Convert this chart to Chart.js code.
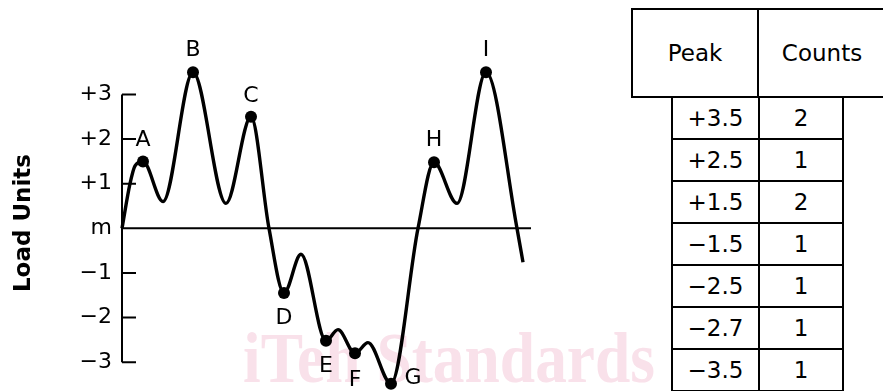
<!doctype html>
<html>
	<head>
		<title>Load Units peaks</title>
		<script src="https://cdn.jsdelivr.net/npm/chart.js@4/dist/chart.umd.min.js"></script>
		<style>
			html, body {
				margin: 0;
				padding: 0;
				background: #fff;
				overflow: hidden;
			}
			#wrap {
				position: relative;
				width: 883px;
				height: 391px;
				overflow: hidden;
			}
			#chart {
				position: absolute;
				left: 0;
				top: 0;
			}
			table {
				position: absolute;
				border-collapse: collapse;
				table-layout: fixed;
				font-family: "DejaVu Sans", sans-serif;
				font-size: 23px;
				background: #fff;
				white-space: nowrap;
			}
			td {
				border: 2px solid #000;
				text-align: center;
				padding: 0;
			}
			#head {
				left: 631px;
				top: 8px;
				width: 250px;
			}
			#head td {
				height: 86px;
			}
			#body {
				left: 671px;
				top: 96px;
				width: 167px;
			}
			#body td {
				height: 40px;
			}
		</style>
	</head>
	<body>
		<div id="wrap">
			<canvas id="chart" width="883" height="391"></canvas>
			<table id="head">
				<tr><td style="width:124px">Peak</td><td style="width:126px">Counts</td></tr>
			</table>
			<table id="body"></table>
		</div>

		<script>
			// curve (x in arbitrary time units, y in load units)
			var curveX = [0, 2, 3.25, 5.25, 10.25, 17.75, 26, 32.25, 36.75, 40.5, 44.75, 51, 54, 58.25, 61.5, 67.25, 74, 78, 83.75, 91, 98.75, 100.25];
			var curveY = [0, 1.0, 1.4, 1.5, 0.6, 3.5, 0.56, 2.5, 0, -1.45, -0.58, -2.52, -2.27, -2.8, -2.56, -3.48, 0, 1.48, 0.56, 3.5, 0, -0.76];

			var peakNames = ['A', 'B', 'C', 'D', 'E', 'F', 'G', 'H', 'I'];
			var peakAt = [3, 5, 7, 9, 11, 13, 15, 17, 19];

			var tickValues = [3, 2, 1, 0, -1, -2, -3];
			var tickLabels = ['+3', '+2', '+1', 'm', '\u22121', '\u22122', '\u22123'];

			var tablePeaks = ['+3.5', '+2.5', '+1.5', '\u22121.5', '\u22122.5', '\u22122.7', '\u22123.5'];
			var tableCounts = [2, 1, 2, 1, 1, 1, 1];

			// table
			var body = document.getElementById('body');
			for (var i = 0; i < tablePeaks.length; i++) {
				var tr = document.createElement('tr');
				tr.innerHTML = '<td style="width:85px">' + tablePeaks[i] + '</td><td style="width:82px">' + tableCounts[i] + '</td>';
				body.appendChild(tr);
			}

			var curve = curveX.map(function(x, i) { return { x: x, y: curveY[i] }; });
			var peaks = peakAt.map(function(k) { return { x: curveX[k], y: curveY[k] }; });

			// where each letter sits relative to its dot
			var labelShift = {
				A: [0, -21], B: [0, -22], C: [0, -21], D: [0, 25], E: [0, 25],
				F: [0, 27], G: [22, -5], H: [0, -22], I: [0, -22]
			};

			var decor = {
				id: 'decor',
				beforeDatasetsDraw: function(chart) {
					var ctx = chart.ctx, area = chart.chartArea;
					var xs = chart.scales.x, ys = chart.scales.y;
					ctx.save();
					// watermark
					ctx.font = 'bold 71px "Liberation Serif", serif';
					ctx.fillStyle = '#f9e1ea';
					ctx.textBaseline = 'alphabetic';
					var txt = 'iTeh Standards';
					var w = ctx.measureText(txt).width;
					ctx.translate(243, 382);
					ctx.scale(412 / w, 1);
					ctx.fillText(txt, 0, 0);
					ctx.restore();

					ctx.save();
					ctx.strokeStyle = '#000';
					ctx.lineWidth = 2;
					ctx.beginPath();
					ctx.moveTo(area.left, ys.getPixelForValue(3));
					ctx.lineTo(area.left, ys.getPixelForValue(-3));
					tickValues.forEach(function(v) {
						if (v === 0) return;
						var y = ys.getPixelForValue(v);
						ctx.moveTo(area.left, y);
						ctx.lineTo(area.left + 14, y);
					});
					var y0 = ys.getPixelForValue(0);
					ctx.moveTo(area.left, y0);
					ctx.lineTo(xs.getPixelForValue(xs.max), y0);
					ctx.stroke();
					ctx.restore();
				},
				afterDatasetsDraw: function(chart) {
					var ctx = chart.ctx;
					var meta = chart.getDatasetMeta(1);
					ctx.save();
					ctx.font = '22px "DejaVu Sans", sans-serif';
					ctx.fillStyle = '#000';
					ctx.textAlign = 'center';
					ctx.textBaseline = 'middle';
					meta.data.forEach(function(pt, i) {
						var name = peakNames[i];
						var s = labelShift[name];
						ctx.fillText(name, pt.x + s[0], pt.y + s[1]);
					});
					ctx.restore();
				}
			};

			new Chart(document.getElementById('chart').getContext('2d'), {
				type: 'scatter',
				data: {
					datasets: [{
						data: curve,
						showLine: true,
						borderColor: '#000',
						borderWidth: 3.4,
						pointRadius: 0,
						cubicInterpolationMode: 'monotone',
						clip: false
					}, {
						data: peaks,
						pointRadius: 6,
						pointBackgroundColor: '#000',
						pointBorderColor: '#000',
						pointBorderWidth: 0,
						clip: false
					}]
				},
				options: {
					responsive: false,
					animation: false,
					layout: { padding: { top: 61, bottom: 0, right: 352, left: 0 } },
					plugins: {
						legend: { display: false },
						tooltip: { enabled: false }
					},
					scales: {
						x: { type: 'linear', min: 0, max: 102.25, display: false },
						y: {
							min: -3.51,
							max: 3.75,
							afterFit: function(scale) {
								scale.width = 122;
								scale.paddingTop = 0;
								scale.paddingBottom = 0;
							},
							afterBuildTicks: function(scale) {
								scale.ticks = tickValues.map(function(v) { return { value: v }; });
							},
							grid: { display: false, drawTicks: false },
							border: { display: false },
							ticks: {
								padding: 10,
								color: '#000',
								font: { family: 'DejaVu Sans', size: 22 },
								callback: function(v) { return tickLabels[tickValues.indexOf(v)]; }
							},
							title: {
								display: true,
								text: 'Load Units',
								color: '#000',
								font: { family: 'DejaVu Sans', size: 23, weight: 'bold' },
								padding: { top: 10, bottom: 0 }
							}
						}
					}
				},
				plugins: [decor]
			});
		</script>
	</body>
</html>
